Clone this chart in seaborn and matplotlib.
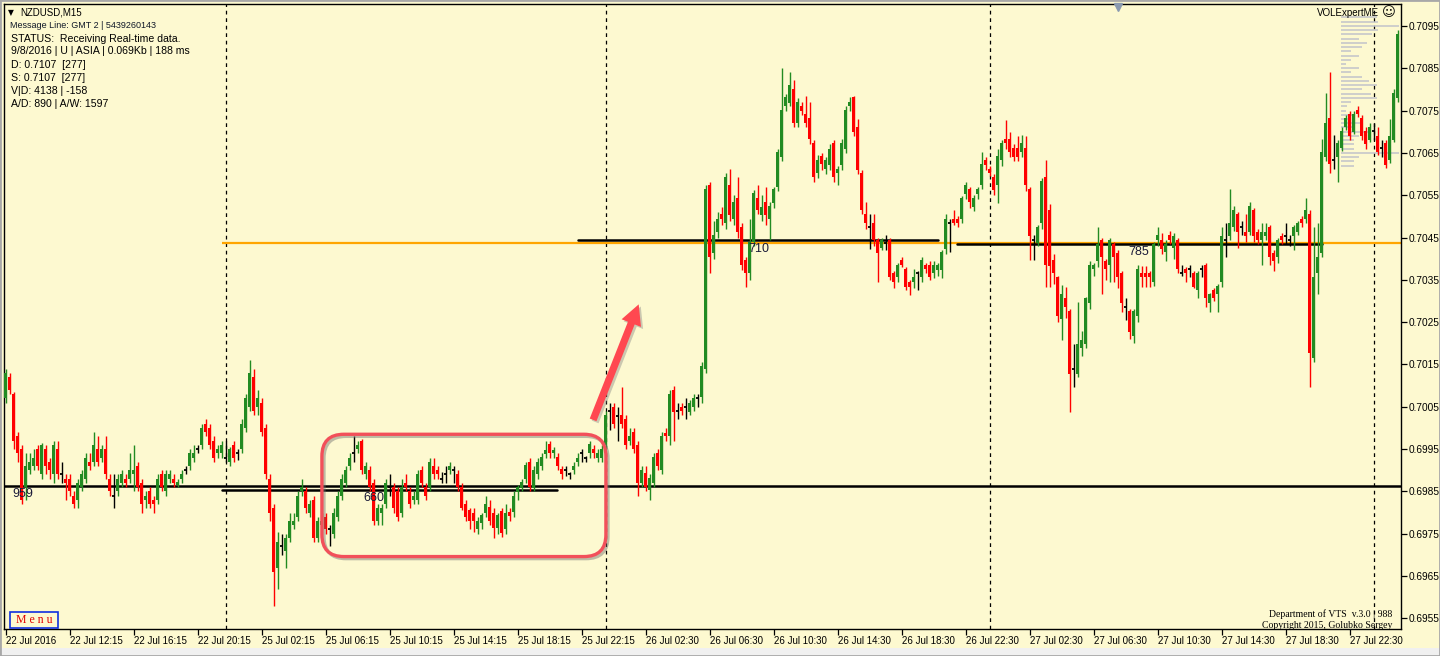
import numpy as np
import pandas as pd
import matplotlib
matplotlib.use("Agg")
import matplotlib.pyplot as plt
import seaborn as sns
from matplotlib.patches import FancyBboxPatch, FancyArrowPatch, Rectangle
import matplotlib.patheffects as pe

# ---------------- data (prices in pips above BASE) ----------------
BASE = 0.6900
PIP = 0.0001

opens_pips = [
    107,112,108,98,95,86,90,91,95,89,
    95,92,89,95,89,88,88,84,83,86,
    88,92,92,95,93,95,88,84,85,87,
    88,88,89,91,87,83,85,83,83,89,
    85,88,88,86.5,88,90,91,93,95,96,
    101,100,97,94,94,93,92,96,94,95,
    100,105,112,105,106,100,88,81,67,72,
    71,74,77,79,85,85,80,83,74,77,
    79,76,75,79,84,87,91,94,95,97,
    89,90,87,78,80,82,86,86,85,80,
    87,85,83,83,90,86,86,91,90,88,
    89,90,90,89,86,82,80.6,80,76,77.5,
    80,81.4,80,76.3,80.4,76,80.2,80.2,84.9,85.7,
    88,92,85.7,89,91,93.8,96.2,94,93.2,90.3,
    90,89,90,92,94,93,94,95,93,93,
    96,104,105,102.7,103,102,97,99,96,86.9,
    89.4,85.3,87,94,90,98.9,98,109,104,104.9,
    105,103.8,104.9,107,107.2,114,157.4,141.4,146.4,150.6,
    148.4,157.4,149.3,154.3,147.6,139.7,136.5,144,154.3,150.3,
    153.5,149.3,153.2,157,164.1,176,176.9,180,172,176,
    174.2,173.2,167.3,160.2,164.3,161.1,162.1,167.3,160.2,162.1,
    166,176,178.3,171.2,160.2,150.6,147.6,148.4,144.4,142.5,
    143.6,144.4,136.5,135.6,139.7,137.5,134.6,134.6,136.5,135.6,
    138.5,138.5,136.5,137.3,137.3,142.3,148.4,149.4,149.4,149.4,
    155.3,156.5,152.3,155.3,157.4,163.3,161.2,159.4,157.4,163.3,
    168.2,168.2,166.1,166.1,165.1,166.1,156.5,144.4,143.6,148.4,
    159.2,151.5,139.7,135.7,125.7,130.6,127.6,113.9,112.7,118.8,
    119.8,129.6,137.5,139.5,144.4,139.5,138.5,143.5,141.4,136.5,
    128.6,127.6,121.7,126.5,136.5,136.5,136.5,134.6,144.4,144.4,
    141.5,145.6,142.5,144.4,136.5,137.5,137.5,136.5,132.6,137.5,
    138.5,129.6,132.6,131.6,134.6,144.4,145.4,147.4,150.6,147.4,
    146.4,146.4,151.5,146.4,144.4,145.4,147.4,141.4,140.5,145.4,
    145.4,144.4,145.4,146.4,149.4,149.4,150.6,116.6,136.5,141.4,
    164.1,173.2,163.3,164.1,166.1,171,174.2,170,175.1,173.2,
    170.2,168.1,170.2,169.1,166.1,167.3,163.2,168.1,178,
]
highs_pips = [
    114,113,108.5,99,96,94,94,95,96,96.5,
    96,93,97,97,92,89,89,85,88,90,
    94,94,99,98,96,98,89,89,89,90,
    89,94,96,92,88,85,86,84,89,90,
    90,90,89,88,90,91,95,96,96,101,
    102,101,98,96,97,97,95.5,97,95,102,
    108,116,114,109,107,101,89,82,75.5,75,
    75,80,80,85,88,86,83,84,79,80,
    80,77,81,85,89,91,94,98,97,97.5,
    92,91,88,82,82,88,89,87,86,88,
    89,86,85,90,91,87,93,93,91,89.5,
    91,92,91,90,87,83,81,81,79,80,
    84,83,81,80,81,82,81,85,86.5,88,
    92,93,91,93,94,97,97,95.5,94,91,
    91,89.5,92,94,95,93.3,97,96,95,96,
    104,105.8,106,105,109.7,103,100,100,97,91,
    91,89,94,95,99,100,109,110,106,106,
    107,106.5,108,108,115.5,157.5,158.2,149,151,152.3,
    160.2,161.3,155,159.4,148.5,140.5,149.3,156.2,157.4,155,
    157,153.5,157,166,185,179,184,182.2,178,177,
    178.4,177,168,164.5,165,164,167,168,162,168.3,
    176,178.3,178.5,173,161,153.5,150.6,150.6,145,145,
    145.5,145,137,139,140.5,138,135,137.5,137,140.5,
    139,139.5,139.5,139,142,150.5,149.4,151.5,150,154.8,
    158,157,155,157,165.3,164,162,160,166,168,
    172.8,170,167,169,169.2,169,157,145.6,148,159,
    163.3,153,141,136,133.8,133.4,128,119.8,129.7,123,
    131,139.4,139,147.4,145,140,145,144,142,137,
    130.6,128,128,138.5,138.3,138.3,137,144,147.4,146,
    144.5,146.5,146,145,138.5,138,138.5,137,137,138.5,
    139,132,133,134,147.6,148.4,156.4,152.5,151,149,
    150.6,153.5,152,147,148.4,148.4,148,142,145,146,
    148.4,145.6,148,149,150,154.3,151.5,147.4,148.4,168.3,
    179.1,184,169.2,168,171,174,175,175,176,174,
    171,172,172,171,168,168,173,180,194,
]
lows_pips = [
    106,108,95,92,82,83,89,90,90,88,
    89,88,87,88,87,83,84,81,81,85,
    87,90,91,91,92,88,84,81,84,86,
    86,87,85,85,80,81,81,80,82,85,
    84,87,86,86,87,89,90,92,94,95,
    98,95,92,93,93,92,91,92,92.5,94,
    99,104,103,103,98,88,78,58,62,70,
    67,73,76,78,84,80,79,73,73,76,
    75,72,74,78,83,86,90,92,94,89,
    88,85,77,77,77,81,84,80,78,79,
    85,81,82,82,86,83,85,88,88,87,
    87,89,87,85,80.5,78,76,75.5,75,76,
    79,77,74,75,74.3,75,78,79,83,85,
    87,85,85,88,90,93,93,93,90,88,
    88.7,88,89,91,92,92,93,93,92,92,
    95,99.5,100,97,100,95,96,94,84,86,
    85,83,86,90,89,97,96,97,102,103,
    102,103,104,105,106,113,136.5,140,145,148,
    147,149,148,145,137.3,133.4,135,143,150.5,149,
    148,144.5,152,156,163,175,176,171,171,174,
    171,167,158,159,161,160,161,158,157.5,161,
    165,175,169,160,150.5,147,142.4,143,134.6,142,
    142,135,133,134.5,138,132.5,131.4,133,132.6,134.5,
    136.5,135,135.5,136,135.5,141,141.5,148,147.4,148.5,
    154,152,151.3,154,156.5,161,159.5,155,153.2,162,
    166,164,163,163,164,156,139.7,139.7,143,147,
    133.4,133.4,134,125,120.8,126,103.8,109.7,112,117,
    119,128,136,138,131.6,135,134.6,134.6,133,127.5,
    125.5,121,120,125,133.4,133.4,133.4,133.5,143,141,
    139.5,143.5,140,136.5,136,134.6,135.6,133,130.6,135.6,
    128.6,127.5,130,127.5,133.4,140.5,144.5,146.5,142.5,145.5,
    144,145.5,144,143.5,138.5,144.5,138.5,137,139,143.5,
    143.5,143,142,145.5,147.5,148.5,109.7,115.5,131.6,140.5,
    163,160.2,161.1,158.2,165.5,170.5,168,169.5,173.5,168,
    166,167.5,168,164.5,164,161.5,162.5,167.5,177,
]
closes_pips = [
    113,109,97,94,83,91,92,93,91,96,
    91,90,96,89,89,87,85,82,87,89,
    93,91,96,92,95,89,85,84,88,89,
    87,90,90,86,82,84,82,82,88,86,
    89,89,87,87.3,89,90,94,94,95,100,
    99,96,93,95,96,93,95,93,94,101,
    107,113,104,107,99,89,80,66,73,72,
    74,78,78,84,86,81,82,74,78,78,
    76,76,80,84,88,90,93,94,96,90,
    91,86,78,81,81,87,86,81,79,86,
    86,82,84,89,87,84,92,89,89,88,
    89,91,90,86,81,79,78,78,78,79.4,
    82,78,76.3,79.4,75.2,80,79.2,84,86.1,87.3,
    91.2,86.1,90,92,93.2,94.9,94,94.8,91,89,
    90,89,91,93,94,93,96.2,94,94,95,
    103,104,101,102.7,101,96,98.2,95,86.9,90,
    86.1,88.1,93.2,91,98.2,98,108,103.8,104,104.1,
    105,105.8,107.1,107,114.6,156.4,140.5,145.6,149.3,149.3,
    159.4,150.3,153.5,146.4,138.5,136.5,144,155.4,151.5,152.3,
    150.3,152.5,156.4,165.3,175.1,178.3,181,172,177.1,175,
    172,168.2,159.2,163.3,162.4,163.3,166,159.2,161.1,167.3,
    175.1,177.1,170,161,151.5,148.4,147.6,144.4,141.4,144.4,
    143.6,135.6,134.6,138.5,138.5,133.4,133.4,135.6,136.5,139.7,
    137.5,135.6,138.5,138.5,141.5,149.4,148.4,148.4,148.4,154.3,
    157.4,153.3,154.3,156.5,162.4,162.1,160.2,156.2,164.3,167.3,
    167.3,165.1,164.1,164.1,167.3,157.3,145.4,144.4,147.4,158.4,
    138.5,138.3,136.5,126.5,131.6,128.6,112.7,113.9,119.8,120.8,
    130.6,138.5,138.5,143.5,140.5,137.5,144.4,140.5,135.6,129.6,
    128.6,122.6,127.6,137.5,135.6,135.6,135.6,143.5,145.6,142.4,
    143.5,144.4,145.4,137.5,136.5,136.5,137.5,133.4,136.5,137.5,
    130.6,131.6,130.6,133.5,145.4,144.4,148.4,151.5,146.4,147.4,
    145.4,152.5,145.4,144.4,146.4,146.4,140.5,139.5,144.4,144.4,
    145.4,144.4,147.4,148.4,148.4,151.5,117.8,135.6,140.5,165.1,
    172,162.3,163.3,167.3,170.2,173.2,169.1,174.2,174.1,169.1,
    167.1,171.2,170.2,165.1,166.1,162.1,169.1,179.1,193,
]

time_labels = ["22 Jul 2016", "22 Jul 12:15", "22 Jul 16:15", "22 Jul 20:15",
               "25 Jul 02:15", "25 Jul 06:15", "25 Jul 10:15", "25 Jul 14:15",
               "25 Jul 18:15", "25 Jul 22:15", "26 Jul 02:30", "26 Jul 06:30",
               "26 Jul 10:30", "26 Jul 14:30", "26 Jul 18:30", "26 Jul 22:30",
               "27 Jul 02:30", "27 Jul 06:30", "27 Jul 10:30", "27 Jul 14:30",
               "27 Jul 18:30", "27 Jul 22:30"]
time_label_bars = [0, 16, 32, 48, 64, 80, 96, 112, 128, 144, 160, 176, 192,
                   208, 224, 240, 256, 272, 288, 304, 320, 336]
day_separator_bars = [55, 150, 246, 342]
price_ticks = [0.6955, 0.6965, 0.6975, 0.6985, 0.6995, 0.7005, 0.7015, 0.7025,
               0.7035, 0.7045, 0.7055, 0.7065, 0.7075, 0.7085, 0.7095]

# horizontal levels
level_prices = [0.69863, 0.69854, 0.70444, 0.70435]
level_start_bar = [-0.5, 54.1, 143.1, 237.9]
level_end_bar = [348.7, 137.9, 233.0, 329.1]
level_texts = ["959", "660", "710", "785"]
level_text_bar = [1.6, 89.4, 185.6, 280.6]
orange_price = 0.70437
orange_start_bar = 54.1

# volume profile (pips above BASE, length in bars)
profile_pips = list(range(197, 161, -1))
profile_volume = [9, 9.2, 14.5, 9.2, 7.8, 4.5, 6.5, 5.2, 2.4, 4.5, 2.4, 1.1,
                  4.5, 2.4, 5.2, 7, 9, 5.2, 7.5, 9, 2.4, 1.5, 1.1, 3.2, 2.4,
                  4.9, 3.2, 7.5, 4.5, 3.2, 3.2, 3.2, 14.5, 4.5, 3.2, 3.2]
profile_start_bar = 333.9

info_lines = ["Message Line: GMT 2 | 5439260143",
              "STATUS:  Receiving Real-time data.",
              "9/8/2016 | U | ASIA | 0.069Kb | 188 ms",
              "D: 0.7107  [277]",
              "S: 0.7107  [277]",
              "V|D: 4138 | -158",
              "A/D: 890 | A/W: 1597"]

n = len(closes_pips)
assert len(opens_pips) == n and len(highs_pips) == n and len(lows_pips) == n

df = pd.DataFrame({
    "bar": np.arange(n),
    "open": BASE + np.array(opens_pips) * PIP,
    "high": BASE + np.array(highs_pips) * PIP,
    "low": BASE + np.array(lows_pips) * PIP,
    "close": BASE + np.array(closes_pips) * PIP,
})

# ---------------- style ----------------
BG = "#FDF9D0"
GREEN = "#228B22"
RED = "#FF0000"
sns.set_theme(style="white")
plt.rcParams["font.family"] = ["Liberation Sans", "DejaVu Sans"]
plt.rcParams["axes.facecolor"] = BG
plt.rcParams["figure.facecolor"] = BG

W, H = 1440, 656
fig = plt.figure(figsize=(W / 100, H / 100), dpi=100, facecolor=BG)
L_px, R_px, T_px, B_px = 3.5, 1400.5, 3.5, 628.5
ax = fig.add_axes([L_px / W, 1 - B_px / H, (R_px - L_px) / W, (B_px - T_px) / H])
ax.set_facecolor(BG)
ax.set_xlim(-0.5, 348.75)
ax.set_ylim(BASE + 52.6 * PIP, BASE + 200.3 * PIP)

# day separators
for b in day_separator_bars:
    ax.axvline(b, color="black", lw=0.9, ls=(0, (3, 3)), zorder=1)

# volume profile
ax.hlines(BASE + np.array(profile_pips) * PIP, profile_start_bar,
          profile_start_bar + np.array(profile_volume),
          color="#C2C3CA", lw=1.1, zorder=1.5)

# orange level
ax.hlines(orange_price, orange_start_bar, 348.75, color="#FFA500", lw=1.6, zorder=2)

# black levels (seaborn line segments)
seg_rows = []
for k, (p, s, e) in enumerate(zip(level_prices, level_start_bar, level_end_bar)):
    seg_rows.append({"seg": k, "bar": s, "price": p})
    seg_rows.append({"seg": k, "bar": e, "price": p})
seg_df = pd.DataFrame(seg_rows)
sns.lineplot(data=seg_df, x="bar", y="price", units="seg", estimator=None,
             sort=False, color="black", lw=1.8, ax=ax, zorder=2.5, legend=False)

# candles
up = df[df.close > df.open]
dn = df[df.close < df.open]
dj = df[df.close == df.open]
BW = 0.76
ax.vlines(up.bar, up.low, up.high, color=GREEN, lw=1.0, zorder=3)
ax.bar(up.bar, up.close - up.open, bottom=up.open, width=BW, color=GREEN, lw=0, zorder=3)
ax.vlines(dn.bar, dn.low, dn.high, color=RED, lw=1.0, zorder=3)
ax.bar(dn.bar, dn.open - dn.close, bottom=dn.close, width=BW, color=RED, lw=0, zorder=3)
ax.vlines(dj.bar, dj.low, dj.high, color="black", lw=1.0, zorder=3)
ax.hlines(dj.open, dj.bar - BW / 2, dj.bar + BW / 2, color="black", lw=1.3, zorder=3)

# level numbers
for t, b, p in zip(level_texts, level_text_bar, level_prices):
    ax.text(b, p - 2.0 * PIP, t, fontsize=9, color="#1A1A38", ha="left",
            va="center", zorder=4)

# axes/ticks
ax.set_xticks(time_label_bars)
ax.set_xticklabels(time_labels, ha="left", fontsize=7.0,
                   family=["Liberation Sans Narrow", "Liberation Sans"])
ax.tick_params(axis="x", direction="out", length=4, width=0.9, pad=1.5, color="black",
               labelcolor="black", bottom=True)
ax.yaxis.tick_right()
ax.set_yticks(price_ticks)
ax.set_yticklabels([f"{v:.4f}" for v in price_ticks], fontsize=7.3)
ax.tick_params(axis="y", direction="out", length=4, width=0.9, pad=1.5, color="black",
               labelcolor="black", right=True)
ax.set_xlabel("")
ax.set_ylabel("")
for s in ax.spines.values():
    s.set_color("black")
    s.set_linewidth(1.0)
ax.grid(False)

# rounded box (in data coords, corrected for aspect)
fig.canvas.draw()
bb = ax.get_window_extent()
xr = ax.get_xlim(); yr = ax.get_ylim()
px_per_bar = bb.width / (xr[1] - xr[0])
px_per_price = bb.height / (yr[1] - yr[0])
aspect = px_per_bar / px_per_price
box_bar0, box_bar1 = 79.1, 150.1
box_p0, box_p1 = BASE + 69.6 * PIP, BASE + 98.5 * PIP
box = FancyBboxPatch((box_bar0, box_p0), box_bar1 - box_bar0, box_p1 - box_p0,
                     boxstyle="round,pad=0,rounding_size=5.5", mutation_aspect=aspect,
                     fill=False, edgecolor="#F2505A", lw=2.4, zorder=5,
                     path_effects=[pe.SimpleLineShadow(offset=(1.5, -1.5), shadow_color="#707070", alpha=0.45),
                                   pe.Normal()])
ax.add_patch(box)

# arrow
arrow = FancyArrowPatch((146.9, BASE + 101.9 * PIP), (158.3, BASE + 129.2 * PIP),
                        arrowstyle="simple,head_length=1.45,head_width=1.5,tail_width=0.52",
                        mutation_scale=10, color="#FF4850", lw=0, zorder=5,
                        shrinkA=0, shrinkB=0,
                        path_effects=[pe.SimplePatchShadow(offset=(1.5, -1.5), shadow_rgbFace="#808080", alpha=0.4),
                                      pe.Normal()])
ax.add_patch(arrow)

# small shift marker at top
ax.plot([0.7975], [0.995], marker="v", markersize=6, color="#8A9AB0",
        transform=ax.transAxes, clip_on=False, zorder=6)

# ---------------- figure texts ----------------
def fx(x):
    return x / W

def fy(y):
    return 1 - y / H

fig.text(fx(8), fy(12.5), "▼", fontsize=5.5, family=["DejaVu Sans"], va="center", ha="left", color="black")
fig.text(fx(20), fy(12.5), "NZDUSD,M15", fontsize=7, va="center", ha="left", color="black")
info_y = [25.5, 38.5, 51.5, 65, 78, 91, 104]
info_size = [6.5, 7.6, 7.6, 7.6, 7.6, 7.6, 7.6]
info_x = [9.5, 11, 11, 11, 11, 11, 11]
for t, y, s, x in zip(info_lines, info_y, info_size, info_x):
    fig.text(fx(x), fy(y), t, fontsize=s, va="center", ha="left",
             color="#101828" if s < 7 else "black")

fig.text(fx(1379), fy(13), "VOLExpertME", fontsize=7, va="center", ha="right", color="black")
fig.text(fx(1396), fy(13), "☺", fontsize=9.5, family=["DejaVu Sans"], va="center", ha="right", color="black")

fig.text(fx(1392), fy(614), "Department of VTS  v.3.0 | 988", fontsize=7,
         family=["Liberation Serif", "DejaVu Serif"], va="center", ha="right", color="black")
fig.text(fx(1392), fy(626), "Copyright 2015, Golubko Sergey", fontsize=7,
         family=["Liberation Serif", "DejaVu Serif"], va="center", ha="right", color="black")

# Menu button
fig.patches.append(Rectangle((fx(10), fy(628)), 48 / W, 16 / H, transform=fig.transFigure,
                             fill=False, edgecolor="#1030E0", lw=1.2, zorder=10))
fig.text(fx(34), fy(620), "M e n u", fontsize=8.5, family=["Liberation Serif", "DejaVu Serif"],
         va="center", ha="center", color="#E00000", zorder=11)

# window frame
fig.patches.append(Rectangle((0, 0), 1, 8 / H, transform=fig.transFigure,
                             facecolor="#F0F0F0", edgecolor="none", zorder=-1))
fig.patches.append(Rectangle((0, 0), 1, 1, transform=fig.transFigure,
                             fill=False, edgecolor="#A8A8A8", lw=2.0, zorder=12))

fig.savefig("out.png", dpi=100, facecolor=BG)
